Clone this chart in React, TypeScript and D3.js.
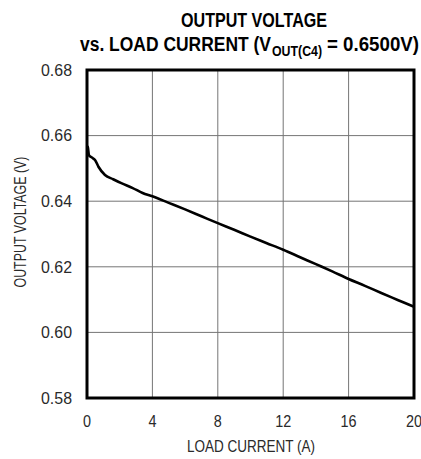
import { useEffect, useRef } from 'react';
import * as d3 from 'd3';

const W = 421;
const H = 459;

// load current (A) / output voltage (V)
const current = [0, 0.05, 0.12, 0.3, 0.5, 0.7, 1.1, 1.6, 2.1, 2.8, 3.4, 4, 5, 6, 7, 8, 9, 10, 11, 12, 13, 14, 15, 16, 17, 18, 19, 20];
const voltage = [0.6568, 0.6565, 0.654, 0.6533, 0.6525, 0.6505, 0.648, 0.6467, 0.6455, 0.644, 0.6425, 0.6415, 0.6395, 0.6375, 0.6354, 0.6333, 0.6313, 0.6292, 0.6272, 0.6252, 0.623, 0.6208, 0.6186, 0.6163, 0.6142, 0.612, 0.6099, 0.6078];

const xTicks = [0, 4, 8, 12, 16, 20];
const yTicks = [0.58, 0.6, 0.62, 0.64, 0.66, 0.68];

const FONT = "'Liberation Sans', Arial, sans-serif";
const TEXT = '#2a2a2a';

export default function App() {
  const svgRef = useRef<SVGSVGElement>(null);

  useEffect(() => {
    if (!svgRef.current) return;
    const svg = d3.select(svgRef.current);
    svg.selectAll('*').remove();

    const left = 87, right = 414, top = 70, bottom = 398;

    const x = d3.scaleLinear().domain([0, 20]).range([left, right]);
    const y = d3.scaleLinear().domain([0.58, 0.68]).range([bottom, top]);

    // grid
    const grid = svg.append('g').attr('stroke', '#757575').attr('stroke-width', 1);
    xTicks.slice(1, -1).forEach(t => {
      grid.append('line').attr('x1', x(t)).attr('x2', x(t)).attr('y1', top).attr('y2', bottom);
    });
    yTicks.slice(1, -1).forEach(t => {
      grid.append('line').attr('x1', left).attr('x2', right).attr('y1', y(t)).attr('y2', y(t));
    });

    // curve
    const pts = current.map((c, i) => [c, voltage[i]] as [number, number]);
    const line = d3.line<[number, number]>()
      .x(d => x(d[0]))
      .y(d => y(d[1]))
      .curve(d3.curveMonotoneX);
    svg.append('path')
      .attr('d', line(pts))
      .attr('fill', 'none')
      .attr('stroke', '#000')
      .attr('stroke-width', 2.6)
      .attr('stroke-linejoin', 'round');

    // frame
    svg.append('rect')
      .attr('x', left).attr('y', top)
      .attr('width', right - left).attr('height', bottom - top)
      .attr('fill', 'none').attr('stroke', '#000').attr('stroke-width', 3);

    // tick labels
    svg.append('g').selectAll('text').data(xTicks).enter().append('text')
      .attr('x', d => x(d)).attr('y', 427)
      .attr('text-anchor', 'middle')
      .attr('font-family', FONT).attr('font-size', 16).attr('fill', TEXT)
      .attr('textLength', d => String(d).length * 8)
      .attr('lengthAdjust', 'spacingAndGlyphs')
      .text(d => d);
    svg.append('g').selectAll('text').data(yTicks).enter().append('text')
      .attr('x', 72).attr('y', d => y(d)).attr('dy', '0.36em')
      .attr('text-anchor', 'end')
      .attr('font-family', FONT).attr('font-size', 16).attr('fill', TEXT)
      .attr('textLength', 31)
      .attr('lengthAdjust', 'spacingAndGlyphs')
      .text(d => d3.format('.2f')(d));

    // axis titles
    svg.append('text')
      .attr('x', 251).attr('y', 452)
      .attr('text-anchor', 'middle')
      .attr('font-family', FONT).attr('font-size', 16).attr('fill', TEXT)
      .attr('textLength', 128).attr('lengthAdjust', 'spacingAndGlyphs')
      .text('LOAD CURRENT (A)');
    svg.append('text')
      .attr('transform', 'translate(26, 222) rotate(-90)')
      .attr('text-anchor', 'middle')
      .attr('font-family', FONT).attr('font-size', 16).attr('fill', TEXT)
      .attr('textLength', 131).attr('lengthAdjust', 'spacingAndGlyphs')
      .text('OUTPUT VOLTAGE (V)');

    // title
    const title = svg.append('g')
      .attr('font-family', FONT).attr('font-weight', 'bold').attr('fill', '#000');
    title.append('text')
      .attr('x', 181).attr('y', 27).attr('font-size', 20)
      .attr('textLength', 146).attr('lengthAdjust', 'spacingAndGlyphs')
      .text('OUTPUT VOLTAGE');
    const t2 = title.append('text').attr('font-size', 20).attr('lengthAdjust', 'spacingAndGlyphs');
    t2.append('tspan')
      .attr('x', 80).attr('y', 51)
      .attr('textLength', 191).attr('lengthAdjust', 'spacingAndGlyphs')
      .text('vs. LOAD CURRENT (V');
    t2.append('tspan')
      .attr('x', 272).attr('y', 56).attr('font-size', 15)
      .attr('textLength', 50).attr('lengthAdjust', 'spacingAndGlyphs')
      .text('OUT(C4)');
    t2.append('tspan')
      .attr('x', 327).attr('y', 51)
      .attr('textLength', 92).attr('lengthAdjust', 'spacingAndGlyphs')
      .text('= 0.6500V)');
  }, []);

  return (
    <svg
      ref={svgRef}
      width={W}
      height={H}
      style={{ position: 'absolute', left: 0, top: 0, background: '#fff' }}
    />
  );
}
